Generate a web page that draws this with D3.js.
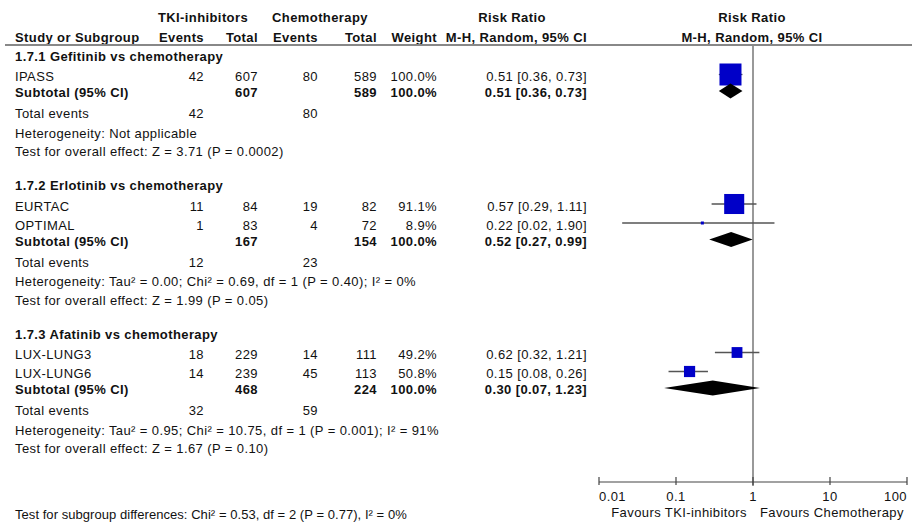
<!DOCTYPE html>
<html>
<head>
<meta charset="utf-8">
<script src="https://cdn.jsdelivr.net/npm/d3@7"></script>
<style>
  html, body { margin: 0; padding: 0; background: #fff; }
  svg { display: block; font-family: "Liberation Sans", Arial, sans-serif; }
  text { fill: #111; font-size: 13px; letter-spacing: 0.4px; }
  .b { font-weight: bold; }
  .foot { letter-spacing: 0.05px; }
</style>
</head>
<body>
<svg id="chart" width="912" height="530"></svg>
<script>
// ---- data ----
const groupTitles = ["1.7.1 Gefitinib vs chemotherapy", "1.7.2 Erlotinib vs chemotherapy", "1.7.3 Afatinib vs chemotherapy"];
const studyNames = ["IPASS", "EURTAC", "OPTIMAL", "LUX-LUNG3", "LUX-LUNG6"];
const studyGroup = [0, 1, 1, 2, 2];
const tkiEvents = [42, 11, 1, 18, 14];
const tkiTotal = [607, 84, 83, 229, 239];
const chemoEvents = [80, 19, 4, 14, 45];
const chemoTotal = [589, 82, 72, 111, 113];
const weights = [100.0, 91.1, 8.9, 49.2, 50.8];
const rr = [0.51, 0.57, 0.22, 0.62, 0.15];
const rrLow = [0.36, 0.29, 0.02, 0.32, 0.08];
const rrHigh = [0.73, 1.11, 1.90, 1.21, 0.26];

const subTkiTotal = [607, 167, 468];
const subChemoTotal = [589, 154, 224];
const subRR = [0.51, 0.52, 0.30];
const subLow = [0.36, 0.27, 0.07];
const subHigh = [0.73, 0.99, 1.23];
const totalEventsTki = [42, 12, 32];
const totalEventsChemo = [80, 23, 59];
const heterogeneity = [
  "Heterogeneity: Not applicable",
  "Heterogeneity: Tau² = 0.00; Chi² = 0.69, df = 1 (P = 0.40); I² = 0%",
  "Heterogeneity: Tau² = 0.95; Chi² = 10.75, df = 1 (P = 0.001); I² = 91%"
];
const overallEffect = [
  "Test for overall effect: Z = 3.71 (P = 0.0002)",
  "Test for overall effect: Z = 1.99 (P = 0.05)",
  "Test for overall effect: Z = 1.67 (P = 0.10)"
];
const subgroupTest = "Test for subgroup differences: Chi² = 0.53, df = 2 (P = 0.77), I² = 0%";
const axisTicks = [0.01, 0.1, 1, 10, 100];
const axisTickLabels = ["0.01", "0.1", "1", "10", "100"];
const favourLabels = ["Favours TKI-inhibitors", "Favours Chemotherapy"];

// ---- layout ----
const svg = d3.select("#chart");
svg.append("rect").attr("width", 912).attr("height", 530).attr("fill", "#fff");

const x = d3.scaleLog().domain([0.01, 100]).range([599, 907]);
const axisY = 482;
const col = { name: 15, tE: 204, tT: 258, cE: 318, cT: 377, w: 437, rr: 587 };
const fmt2 = d3.format(".2f");
const ciText = (m, l, h) => `${fmt2(m)} [${fmt2(l)}, ${fmt2(h)}]`;

function txt(xp, yp, s, anchor, bold) {
  return svg.append("text").attr("x", xp).attr("y", yp).attr("dy", "0.35em")
    .attr("text-anchor", anchor || "start").attr("class", bold ? "b" : null).text(s);
}

// header
txt(203, 17, "TKI-inhibitors", "middle", true);
txt(320, 17, "Chemotherapy", "middle", true);
txt(512, 17, "Risk Ratio", "middle", true);
txt(752, 17, "Risk Ratio", "middle", true);
txt(col.name, 37, "Study or Subgroup", "start", true);
txt(col.tE, 37, "Events", "end", true);
txt(col.tT, 37, "Total", "end", true);
txt(col.cE, 37, "Events", "end", true);
txt(col.cT, 37, "Total", "end", true);
txt(col.w, 37, "Weight", "end", true);
txt(col.rr, 37, "M-H, Random, 95% CI", "end", true);
txt(752, 37, "M-H, Random, 95% CI", "middle", true);

// null line
svg.append("line").attr("x1", x(1)).attr("x2", x(1)).attr("y1", 45).attr("y2", axisY + 4)
  .attr("stroke", "#777").attr("stroke-width", 1.5);
// header rule
svg.append("line").attr("x1", 5).attr("x2", 912).attr("y1", 45).attr("y2", 45)
  .attr("stroke", "#888").attr("stroke-width", 2);

// rows
let y = 56;
groupTitles.forEach((title, g) => {
  txt(col.name, y, title, "start", true);
  y += 20.5;
  const idx = studyNames.map((_, i) => i).filter(i => studyGroup[i] === g);
  idx.forEach(i => {
    txt(col.name, y, studyNames[i]);
    txt(col.tE, y, tkiEvents[i], "end");
    txt(col.tT, y, tkiTotal[i], "end");
    txt(col.cE, y, chemoEvents[i], "end");
    txt(col.cT, y, chemoTotal[i], "end");
    txt(col.w, y, d3.format(".1f")(weights[i]) + "%", "end");
    txt(col.rr, y, ciText(rr[i], rrLow[i], rrHigh[i]), "end");
    const my = y - 2;
    svg.append("line").attr("x1", x(rrLow[i])).attr("x2", x(rrHigh[i]))
      .attr("y1", my).attr("y2", my).attr("stroke", "#555").attr("stroke-width", 1.3);
    const s = Math.max(3, 22 * weights[i] / 100);
    svg.append("rect").attr("x", x(rr[i]) - s / 2).attr("y", my - s / 2)
      .attr("width", s).attr("height", s).attr("fill", "#0000c8");
    y += 19;
  });
  y -= 3;
  // subtotal
  txt(col.name, y, "Subtotal (95% CI)", "start", true);
  txt(col.tT, y, subTkiTotal[g], "end", true);
  txt(col.cT, y, subChemoTotal[g], "end", true);
  txt(col.w, y, "100.0%", "end", true);
  txt(col.rr, y, ciText(subRR[g], subLow[g], subHigh[g]), "end", true);
  const dy = y - 1.5, hh = 7.5;
  svg.append("path")
    .attr("d", `M${x(subLow[g])},${dy} L${x(subRR[g])},${dy - hh} L${x(subHigh[g])},${dy} L${x(subRR[g])},${dy + hh} Z`)
    .attr("fill", "#000");
  y += 21;
  txt(col.name, y, "Total events");
  txt(col.tE, y, totalEventsTki[g], "end");
  txt(col.cE, y, totalEventsChemo[g], "end");
  y += 19.5;
  txt(col.name, y, heterogeneity[g]);
  y += 18.5;
  txt(col.name, y, overallEffect[g]);
  y += 34;
});

// axis
svg.append("line").attr("x1", x(0.01)).attr("x2", x(100)).attr("y1", axisY).attr("y2", axisY)
  .attr("stroke", "#444").attr("stroke-width", 1.2);
axisTicks.forEach((t, i) => {
  svg.append("line").attr("x1", x(t)).attr("x2", x(t)).attr("y1", axisY - 5).attr("y2", axisY + 3)
    .attr("stroke", "#444").attr("stroke-width", 1.2);
  const anchor = i === 0 ? "start" : (i === axisTicks.length - 1 ? "end" : "middle");
  txt(x(t), 496, axisTickLabels[i], anchor);
});
txt(747, 512, favourLabels[0], "end");
txt(760, 512, favourLabels[1], "start");

txt(col.name, 514, subgroupTest).attr("class", "foot");
</script>
</body>
</html>
